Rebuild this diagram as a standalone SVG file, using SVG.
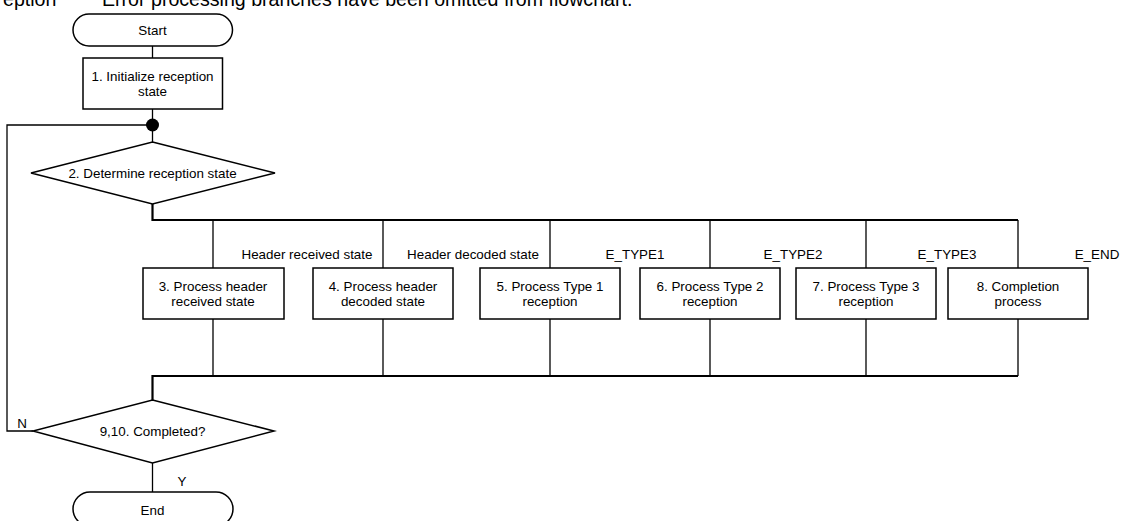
<svg xmlns="http://www.w3.org/2000/svg" width="1121" height="521" viewBox="0 0 1121 521">
  <style>
    text { font-family: "Liberation Sans", Arial, sans-serif; font-size: 13.4px; fill: #000; }
    .mid { text-anchor: middle; }
    .note { font-size: 19.6px; }
    .shape { fill: #fff; stroke: #000; stroke-width: 1.5; }
    .wire { fill: none; stroke: #000; stroke-width: 1.3; }
    .bus { fill: none; stroke: #000; stroke-width: 2.2; }
  </style>
  <rect x="0" y="0" width="1121" height="521" fill="#fff"/>

  <!-- caption line, running off the top edge -->
  <text class="note" x="3" y="6">eption</text>
  <text class="note" x="102" y="6">Error processing branches have been omitted from flowchart.</text>

  <!-- connectors -->
  <g id="connectors">
    <line class="wire" x1="152.5" y1="46" x2="152.5" y2="58"/>
    <line class="wire" x1="152.5" y1="109" x2="152.5" y2="142"/>
    <polyline class="wire" points="33,431 7,431 7,125 152.5,125"/>
    <polyline class="bus" points="152.5,204 152.5,220 1018,220"/>
    <line class="wire" x1="213" y1="220" x2="213" y2="268"/>
    <line class="wire" x1="383" y1="220" x2="383" y2="268"/>
    <line class="wire" x1="550" y1="220" x2="550" y2="268"/>
    <line class="wire" x1="710" y1="220" x2="710" y2="268"/>
    <line class="wire" x1="866" y1="220" x2="866" y2="268"/>
    <line class="wire" x1="1018" y1="220" x2="1018" y2="268"/>
    <line class="wire" x1="213" y1="319" x2="213" y2="376"/>
    <line class="wire" x1="383" y1="319" x2="383" y2="376"/>
    <line class="wire" x1="550" y1="319" x2="550" y2="376"/>
    <line class="wire" x1="710" y1="319" x2="710" y2="376"/>
    <line class="wire" x1="866" y1="319" x2="866" y2="376"/>
    <line class="wire" x1="1018" y1="319" x2="1018" y2="376"/>
    <polyline class="bus" points="1018,376 152.5,376 152.5,400"/>
    <line class="wire" x1="152.5" y1="463" x2="152.5" y2="492"/>
    <circle cx="152.5" cy="125" r="6.5" fill="#000"/>
  </g>

  <!-- branch labels -->
  <g id="labels">
    <text class="mid" x="307" y="258.5">Header received state</text>
    <text class="mid" x="473" y="258.5">Header decoded state</text>
    <text class="mid" x="635" y="258.5">E_TYPE1</text>
    <text class="mid" x="793" y="258.5">E_TYPE2</text>
    <text class="mid" x="947" y="258.5">E_TYPE3</text>
    <text class="mid" x="1097" y="258.5">E_END</text>
    <text class="mid" x="22" y="427.5">N</text>
    <text class="mid" x="182" y="485.5">Y</text>
  </g>

  <g id="start">
    <rect class="shape" x="73" y="14" width="159.5" height="32" rx="16"/>
    <text class="mid" x="152.5" y="34.5">Start</text>
  </g>

  <g id="step1">
    <rect class="shape" x="83" y="58" width="139.5" height="51"/>
    <text class="mid" x="152.5" y="80.5">1. Initialize reception</text>
    <text class="mid" x="152.5" y="96">state</text>
  </g>

  <g id="step2">
    <polygon class="shape" points="152.5,142 275,173 152.5,204 31,173"/>
    <text class="mid" x="152.5" y="177.5">2. Determine reception state</text>
  </g>

  <g id="step3">
    <rect class="shape" x="143" y="268" width="141" height="51"/>
    <text class="mid" x="213" y="290.5">3. Process header</text>
    <text class="mid" x="213" y="306">received state</text>
  </g>

  <g id="step4">
    <rect class="shape" x="313" y="268" width="140" height="51"/>
    <text class="mid" x="383" y="290.5">4. Process header</text>
    <text class="mid" x="383" y="306">decoded state</text>
  </g>

  <g id="step5">
    <rect class="shape" x="480" y="268" width="140" height="51"/>
    <text class="mid" x="550" y="290.5">5. Process Type 1</text>
    <text class="mid" x="550" y="306">reception</text>
  </g>

  <g id="step6">
    <rect class="shape" x="640" y="268" width="140" height="51"/>
    <text class="mid" x="710" y="290.5">6. Process Type 2</text>
    <text class="mid" x="710" y="306">reception</text>
  </g>

  <g id="step7">
    <rect class="shape" x="796" y="268" width="140" height="51"/>
    <text class="mid" x="866" y="290.5">7. Process Type 3</text>
    <text class="mid" x="866" y="306">reception</text>
  </g>

  <g id="step8">
    <rect class="shape" x="948" y="268" width="140" height="51"/>
    <text class="mid" x="1018" y="290.5">8. Completion</text>
    <text class="mid" x="1018" y="306">process</text>
  </g>

  <g id="step9-10">
    <polygon class="shape" points="152.5,400 274,431 152.5,463 33,431"/>
    <text class="mid" x="152.5" y="435.5">9,10. Completed?</text>
  </g>

  <g id="end">
    <rect class="shape" x="73" y="492" width="160" height="34" rx="17"/>
    <text class="mid" x="152.5" y="514.5">End</text>
  </g>
</svg>
